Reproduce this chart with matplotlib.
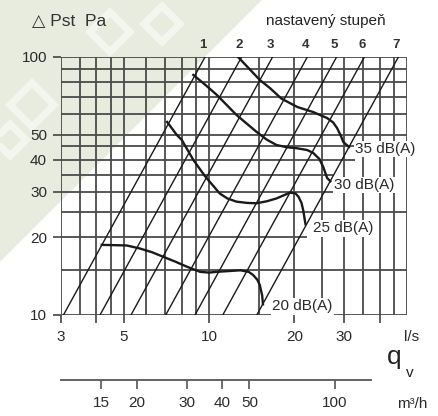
import numpy as np
import matplotlib
matplotlib.use('Agg')
import matplotlib.pyplot as plt
from matplotlib.patches import Polygon

plt.rcParams['font.family'] = ['Liberation Sans', 'DejaVu Sans']

# fan setting lines: flow (l/s) where each line crosses 10 Pa, p ~ q^2
SETTINGS = ['1', '2', '3', '4', '5', '6', '7']
SETTING_Q10 = [3.06, 4.12, 5.30, 7.03, 8.92, 11.18, 14.74]

# noise curves (l/s, Pa)
DB_LABELS = ['35 dB(A)', '30 dB(A)', '25 dB(A)', '20 dB(A)']
CURVE_35_Q = [12.66, 14.0, 15.1, 16.4, 18.0, 20.5, 23.3, 26.1, 27.4, 28.3, 29.2, 29.8, 31.2]
CURVE_35_P = [100, 89, 81.5, 75.8, 69, 64.0, 61.2, 58.0, 55.8, 53.1, 49.5, 46.8, 44.8]
CURVE_30_Q = [8.8, 9.7, 10.65, 12.5, 14.7, 16.0, 17.3, 18.8, 20.4, 22.2, 23.3, 24.5, 25.3, 26.1, 26.8]
CURVE_30_P = [85.2, 78, 71.3, 59.6, 51.3, 47.8, 45.6, 44.7, 44.3, 43.6, 42.5, 40.3, 37.5, 34.0, 33.0]
CURVE_25_Q = [7.11, 7.69, 8.01, 8.8, 9.68, 10.9, 11.6, 12.5, 13.6, 14.7, 16.0, 17.3, 19.3, 20.2, 20.7, 21.2, 21.5, 21.9]
CURVE_25_P = [56, 49.9, 47.7, 39.9, 34.5, 29.6, 28.3, 27.5, 27.2, 27.1, 27.6, 28.3, 29.8, 29.6, 28.7, 27.2, 25.5, 22.5]
CURVE_20_Q = [4.18, 5.12, 5.70, 6.30, 6.90, 7.6, 8.34, 9.29, 10.0, 10.65, 12.9, 13.8, 14.3, 14.8, 15.1, 15.4, 15.5]
CURVE_20_P = [18.7, 18.6, 18.1, 17.5, 16.8, 16.1, 15.4, 14.7, 14.6, 14.7, 14.9, 14.7, 14.3, 13.7, 13.1, 11.9, 11.0]
# label anchor (l/s, Pa)
DB_LABEL_Q = [32.8, 27.7, 23.3, 16.7]
DB_LABEL_P = [44.0, 31.9, 21.7, 10.8]

# grid and ticks
Q_GRID = [3, 3.5, 4, 4.5, 5, 6, 7, 8, 9, 10, 15, 20, 25, 30, 35, 40, 45, 50]
P_GRID = [10, 15, 20, 25, 30, 35, 40, 45, 50, 60, 70, 80, 90, 100]
Q_TICKS = [3, 4, 5, 10, 20, 30, 40]
Q_TICKLABELS = ['3', '', '5', '10', '20', '30', '']
P_TICKS = [10, 20, 30, 40, 50, 100]
M3H_TICKS = [15, 20, 30, 40, 50, 100]

W, H = 438, 416
fig = plt.figure(figsize=(W / 100, H / 100), dpi=100)
fig.patch.set_facecolor('white')

# pale watermark in the top-left corner
fig.patches.append(Polygon([(0, 1), (262 / W, 1), (0, 1 - 262 / H)], closed=True,
                           transform=fig.transFigure, facecolor='#e8ecdf',
                           edgecolor='none', zorder=-10))
for cx, cy, s in [(110, 32, 20), (162, 24, 18), (32, 105, 22), (10, 140, 16)]:
    fig.patches.append(Polygon([((cx - s) / W, 1 - cy / H), (cx / W, 1 - (cy - s) / H),
                                ((cx + s) / W, 1 - cy / H), (cx / W, 1 - (cy + s) / H)],
                               closed=True, transform=fig.transFigure, facecolor='none',
                               edgecolor='white', lw=5, alpha=0.5, zorder=-9))

ax = fig.add_axes([61 / W, (H - 315) / H, 346 / W, 258 / H])
ax.patch.set_alpha(0)
ax.set_xscale('log')
ax.set_yscale('log')
ax.set_xlim(3, 50)
ax.set_ylim(10, 100)
for s in ax.spines.values():
    s.set_visible(False)

grid_kw = dict(color='#4a4a4a', lw=1.3, zorder=1, solid_capstyle='butt')
for q in Q_GRID:
    ax.plot([q, q], [10, 100], **grid_kw)
# some lines stop where the labels sit
p_stop = {35: 27.4, 40: 32.8, 45: 32.8, 30: 27.4, 20: 22.2}
for p in P_GRID:
    ax.plot([3, p_stop.get(p, 50)], [p, p], **grid_kw)

# setting lines
for name, q10 in zip(SETTINGS, SETTING_Q10):
    q100 = q10 * np.sqrt(10)
    ax.plot([q10, q100], [10, 100], color='#1a1a1a', lw=1.0, zorder=2)
    ax.annotate(name, xy=(q100, 100), xytext=(-1.5, 9), textcoords='offset points',
                ha='center', va='center', fontsize=9.5, fontweight='bold', color='#333333',
                annotation_clip=False)

curves = [(CURVE_35_Q, CURVE_35_P), (CURVE_30_Q, CURVE_30_P),
          (CURVE_25_Q, CURVE_25_P), (CURVE_20_Q, CURVE_20_P)]
for (cq, cp) in curves:
    ax.plot(cq, cp, color='#1a1a1a', lw=1.7, zorder=3, solid_joinstyle='round')

for lab, lq, lp in zip(DB_LABELS, DB_LABEL_Q, DB_LABEL_P):
    ax.text(lq, lp, lab, ha='left', va='center', fontsize=11, color='#2a2a2a', zorder=4,
            bbox=dict(facecolor='white', edgecolor='none', pad=1.0), clip_on=False)

ax.set_xticks(Q_TICKS)
ax.set_xticklabels(Q_TICKLABELS)
ax.set_yticks(P_TICKS)
ax.set_yticklabels([str(v) for v in P_TICKS])
ax.minorticks_off()
ax.tick_params(axis='both', direction='out', length=6, width=1.2, color='#444444',
               labelsize=11, labelcolor='#2a2a2a')
ax.tick_params(axis='x', pad=5)
ax.tick_params(axis='y', pad=4)

# second flow scale in m3/h
ax2 = fig.add_axes([61 / W, (H - 380) / H, 346 / W, 0.001])
ax2.patch.set_alpha(0)
ax2.set_xscale('log')
ax2.set_xlim(3 * 3.6, 50 * 3.6)
for k in ['top', 'left', 'right']:
    ax2.spines[k].set_visible(False)
ax2.spines['bottom'].set_bounds(3 * 3.6, 37.4 * 3.6)
ax2.spines['bottom'].set_color('#555555')
ax2.spines['bottom'].set_linewidth(1.3)
ax2.set_yticks([])
ax2.set_xticks(M3H_TICKS)
ax2.set_xticklabels([str(v) for v in M3H_TICKS])
ax2.minorticks_off()
ax2.tick_params(axis='x', direction='out', length=6.5, width=1.2, color='#555555',
                labelsize=11, labelcolor='#2a2a2a', pad=5)

def ftext(x, y, s, **kw):
    fig.text(x / W, 1 - y / H, s, **kw)

ftext(32, 22, '△ Pst  Pa', fontsize=12.5, va='center', ha='left', color='#333333')
ftext(266, 21, 'nastavený stupeň', fontsize=11, va='center', ha='left', color='#222222')
ftext(404, 337, 'l/s', fontsize=11, va='center', ha='left', color='#2a2a2a')
ftext(387, 364, 'q', fontsize=19, va='baseline', ha='left', color='#222222')
ftext(406, 377, 'v', fontsize=11, va='baseline', ha='left', color='#222222')
ftext(397, 404, 'm³/h', fontsize=11, va='center', ha='left', color='#2a2a2a')

fig.savefig('out.png', dpi=100)
